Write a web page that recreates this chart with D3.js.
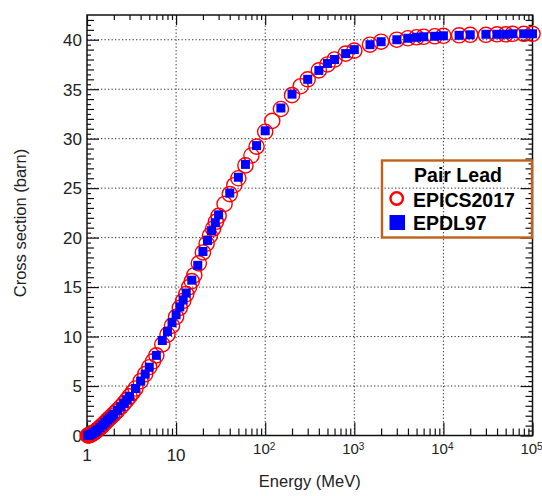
<!DOCTYPE html>
<html>
<head>
<meta charset="utf-8">
<script src="https://cdn.jsdelivr.net/npm/d3@7"></script>
<style>
  body { margin: 0; background: #fff; }
  svg { display: block; }
  text { font-family: "Liberation Sans", Arial, sans-serif; }
</style>
</head>
<body>
<script>
// values (Pb pair production, barn)
const epicsEnergy = [1.022, 1.04, 1.06, 1.08, 1.1, 1.12, 1.15, 1.18, 1.2, 1.25, 1.3, 1.35, 1.4, 1.45, 1.5,
  1.6, 1.7, 1.8, 1.9, 2.0, 2.1, 2.2, 2.4, 2.6, 2.8, 3.0, 3.25, 3.5, 4.0, 4.5, 5.0, 5.5, 6.0, 7.0, 8.0, 9.0,
  10, 11, 12, 13, 14, 15, 16, 18, 20, 22, 24, 26, 28, 30, 35, 40, 45, 50, 60, 70, 80, 100, 120, 150,
  200, 250, 300, 400, 500, 600, 800, 1000, 1500, 2000, 3000, 4000, 5000, 6000, 8000,
  10000, 15000, 20000, 30000, 40000, 50000, 60000, 80000, 100000];
const epicsXs = [0, 0.01, 0.03, 0.05, 0.1, 0.13, 0.2, 0.26, 0.3, 0.42, 0.55, 0.67, 0.8, 0.92, 1.05,
  1.3, 1.55, 1.75, 1.95, 2.15, 2.35, 2.55, 2.9, 3.25, 3.6, 3.95, 4.35, 4.75, 5.5, 6.2, 6.9, 7.5, 8.1, 9.2, 10.2, 11.1,
  12.0, 12.9, 13.6, 14.3, 15.0, 15.6, 16.2, 17.4, 18.5, 19.4, 20.2, 20.9, 21.6, 22.2, 23.4, 24.4, 25.3, 26.0, 27.3, 28.3, 29.2, 30.7, 31.8, 33.0,
  34.4, 35.3, 36.0, 36.9, 37.5, 38.0, 38.6, 38.9, 39.5, 39.8, 40.0, 40.15, 40.25, 40.3, 40.35,
  40.4, 40.45, 40.5, 40.5, 40.55, 40.55, 40.6, 40.6, 40.6];

const epdlEnergy = [1.022, 1.05, 1.1, 1.15, 1.2, 1.25, 1.3, 1.4, 1.5, 1.6, 1.7, 1.8, 1.9, 2.0, 2.2, 2.4,
  2.6, 2.8, 3.0, 3.5, 4.0, 4.5, 5.0, 6.0, 7.0, 8.0, 9.0, 10, 11, 12, 13, 15, 17.5, 20, 22.5, 25, 27.5, 30,
  40, 50, 60, 80, 100, 150, 200, 300, 400, 500, 600, 800, 1000, 1500, 2000, 3000, 4000, 5000, 6000, 8000,
  10000, 15000, 20000, 30000, 40000, 50000, 60000, 80000, 100000];
const epdlXs = [0, 0.02, 0.1, 0.2, 0.3, 0.42, 0.55, 0.8, 1.05, 1.3, 1.55, 1.75, 1.95, 2.15, 2.55, 2.9,
  3.25, 3.6, 3.95, 4.75, 5.5, 6.2, 6.9, 8.1, 9.6, 10.5, 11.4, 12.2, 13.0, 13.7, 14.4, 15.7, 17.2, 18.6, 19.7, 20.7, 21.5, 22.3,
  24.5, 26.1, 27.4, 29.3, 30.8, 33.1, 34.5, 36.0, 36.9, 37.6, 38.0, 38.6, 39.0, 39.5, 39.8, 40.0, 40.15, 40.25, 40.3, 40.35,
  40.4, 40.45, 40.5, 40.55, 40.55, 40.55, 40.6, 40.6, 40.6];

const xMajor = [1, 10, 100, 1000, 10000, 100000];
const xLabelBase = ["1", "10", "10", "10", "10", "10"];
const xLabelExp = ["", "", "2", "3", "4", "5"];
const yMajor = [0, 5, 10, 15, 20, 25, 30, 35, 40];
const legendTitle = "Pair Lead";
const seriesNames = ["EPICS2017", "EPDL97"];

const W = 542, H = 496;
const frame = {left: 87, right: 532.5, top: 15, bottom: 435.5};

const svg = d3.select("body").append("svg")
  .attr("width", W).attr("height", H);

const x = d3.scaleLog().domain([1, 1e5]).range([frame.left, frame.right]);
const y = d3.scaleLinear().domain([0, 42.5]).range([frame.bottom, frame.top]);

// minor tick values
let xMinor = [];
for (let d = 1; d < 1e5; d *= 10) {
  for (let k = 2; k <= 9; k++) xMinor.push(d * k);
}
let yMinor = d3.range(0, 42.5, 1).filter(v => v % 5 !== 0);
let yHalf = d3.range(0.5, 42.5, 1);

// grid (dotted)
svg.append("g").selectAll("line")
  .data(xMajor.slice(1, -1)).enter().append("line")
  .attr("x1", d => x(d)).attr("x2", d => x(d))
  .attr("y1", frame.top).attr("y2", frame.bottom)
  .attr("stroke", "#333").attr("stroke-width", 1).attr("stroke-dasharray", "1.3,2.2");
svg.append("g").selectAll("line")
  .data(yMajor.slice(1)).enter().append("line")
  .attr("y1", d => y(d)).attr("y2", d => y(d))
  .attr("x1", frame.left).attr("x2", frame.right)
  .attr("stroke", "#333").attr("stroke-width", 1).attr("stroke-dasharray", "1.3,2.2");

// axes with inward ticks
function tickAxis(axisFn, scale, vals, size, tr) {
  const g = svg.append("g").attr("transform", tr)
    .call(axisFn(scale).tickValues(vals).tickSize(size).tickFormat(""));
  g.select(".domain").remove();
  g.selectAll("line").attr("stroke", "#111").attr("stroke-width", 1.2);
  return g;
}
tickAxis(d3.axisBottom, x, xMajor, -13, `translate(0,${frame.bottom})`);
tickAxis(d3.axisBottom, x, xMinor, -7, `translate(0,${frame.bottom})`);
tickAxis(d3.axisTop, x, xMajor, -10, `translate(0,${frame.top})`);
tickAxis(d3.axisTop, x, xMinor, -5, `translate(0,${frame.top})`);
tickAxis(d3.axisLeft, y, yMajor, -12, `translate(${frame.left},0)`);
tickAxis(d3.axisLeft, y, yMinor, -7, `translate(${frame.left},0)`);
tickAxis(d3.axisLeft, y, yHalf, -4, `translate(${frame.left},0)`);
tickAxis(d3.axisRight, y, yMajor, -12, `translate(${frame.right},0)`);
tickAxis(d3.axisRight, y, yMinor, -7, `translate(${frame.right},0)`);
tickAxis(d3.axisRight, y, yHalf, -4, `translate(${frame.right},0)`);

// frame
svg.append("rect")
  .attr("x", frame.left).attr("y", frame.top)
  .attr("width", frame.right - frame.left).attr("height", frame.bottom - frame.top)
  .attr("fill", "none").attr("stroke", "#111").attr("stroke-width", 1.5);

// tick labels
svg.append("g").selectAll("text")
  .data(yMajor).enter().append("text")
  .attr("x", frame.left - 5).attr("y", d => y(d) + 6.3)
  .attr("text-anchor", "end").attr("font-size", 17).attr("fill", "#222")
  .text(d => d);

const xl = svg.append("g").selectAll("text")
  .data(xMajor).enter().append("text")
  .attr("x", (d, i) => x(d) + (xLabelExp[i] ? -1 : 0))
  .attr("y", (d, i) => xLabelExp[i] ? 454 : 460.5)
  .attr("text-anchor", "middle").attr("fill", "#222")
  .attr("font-size", (d, i) => xLabelExp[i] ? 15 : 17);
xl.append("tspan").text((d, i) => xLabelBase[i]);
xl.append("tspan").attr("font-size", 10).attr("dy", -4)
  .text((d, i) => xLabelExp[i]);

// axis titles
svg.append("text")
  .attr("x", (frame.left + frame.right) / 2).attr("y", 487)
  .attr("text-anchor", "middle").attr("font-size", 16.5).attr("fill", "#222")
  .text("Energy (MeV)");
svg.append("text")
  .attr("transform", "translate(26,223) rotate(-90)")
  .attr("text-anchor", "middle").attr("font-size", 16.5).attr("fill", "#222")
  .text("Cross section (barn)");

// EPICS2017: open red circles
svg.append("g").selectAll("circle")
  .data(epicsEnergy).enter().append("circle")
  .attr("cx", d => x(d)).attr("cy", (d, i) => y(epicsXs[i]))
  .attr("r", 7.6)
  .attr("fill", "none").attr("stroke", "#ff0000").attr("stroke-width", 1.4);

// EPDL97: blue squares
const sq = 9;
svg.append("g").selectAll("rect")
  .data(epdlEnergy).enter().append("rect")
  .attr("x", d => x(d) - sq / 2).attr("y", (d, i) => y(epdlXs[i]) - sq / 2)
  .attr("width", sq).attr("height", sq)
  .attr("fill", "#0000ff");

// legend
const lg = svg.append("g");
lg.append("rect")
  .attr("x", 382).attr("y", 160.5).attr("width", 150).attr("height", 77)
  .attr("fill", "none").attr("stroke", "#c0621c").attr("stroke-width", 2.4);
lg.append("text")
  .attr("x", 458).attr("y", 182)
  .attr("text-anchor", "middle").attr("font-size", 19.5).attr("font-weight", "bold")
  .text(legendTitle);
lg.append("circle")
  .attr("cx", 396.7).attr("cy", 198.5).attr("r", 6.2)
  .attr("fill", "none").attr("stroke", "#ff0000").attr("stroke-width", 2.4);
lg.append("rect")
  .attr("x", 389.5).attr("y", 215).attr("width", 15.5).attr("height", 15)
  .attr("fill", "#0000ff");
lg.selectAll("text.name")
  .data(seriesNames).enter().append("text")
  .attr("class", "name")
  .attr("x", 413).attr("y", (d, i) => 206.7 + i * 23)
  .attr("font-size", 19.5).attr("font-weight", "bold")
  .text(d => d);
</script>
</body>
</html>
